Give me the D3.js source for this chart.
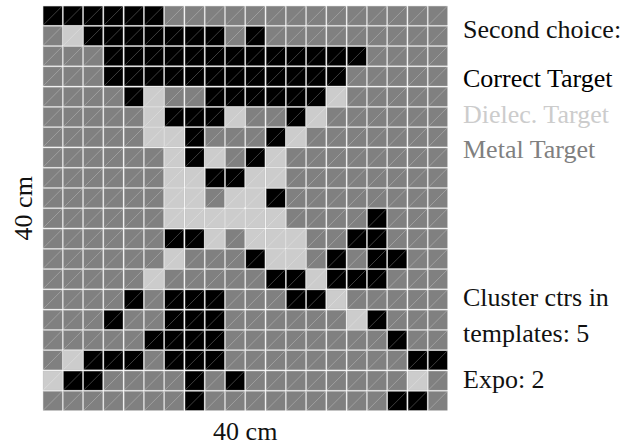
<!DOCTYPE html>
<html>
<head>
<meta charset="utf-8">
<script src="https://cdn.jsdelivr.net/npm/d3@7"></script>
<style>
  html, body { margin: 0; padding: 0; background: #fff; }
  svg { display: block; }
  text { font-family: "Liberation Serif", "Times New Roman", serif; }
</style>
</head>
<body>
<script>
// Second-choice classification over a 20 x 20 grid of cells (40 cm x 40 cm).
// C = Correct Target, D = Dielec. Target, M = Metal Target
const categories = ["Correct Target", "Dielec. Target", "Metal Target"];
const categoryCodes = ["C", "D", "M"];
const categoryColors = ["#000000", "#cccccc", "#808080"];

const gridRows = [
  "CCCCCCMMMMMMMMMMMMMM",
  "MDCCCCCCCMCMMMMMMMMM",
  "MMMCCCCCCCCCCCCCMMMM",
  "MMMCCCCCCCCCCCCMMMMM",
  "MMMMCDMMCCCCCCDMMMMM",
  "MMMMMDCCCDMMCDMMMMMM",
  "MMMMMDDCMMMCDMMMMMMM",
  "MMMMMMDCDMCDMMMMMMMM",
  "MMMMMMDDCCDDMMMMMMMM",
  "MMMMMMDDMDDCMMMMMMMM",
  "MMMMMMDDDDDDMMMMCMMM",
  "MMMMMMCCDMDDDMMCCMMM",
  "MMMMMMDMMMCDDMCMCCMM",
  "MMMMMDMMMMMCCDCCCMMM",
  "MMMMCMCCCMMMCCDMMMMM",
  "MMMCMMCCCMMMMMMDCMMM",
  "MMMMMCCCCMMMMMMMMCMM",
  "MDCCCMCCCMMMMMMMMMCC",
  "DCCMMMMCMCMMMMMMMMDM",
  "MMMMMMMCMMMMMMMMMCCM"
];

const axisLabelX = "40 cm";
const axisLabelY = "40 cm";
const legendTitle = "Second choice:";
const noteLines = ["Cluster ctrs in", "templates: 5"];
const noteExpo = "Expo: 2";

const W = 637, H = 447;
const svg = d3.select("body").append("svg").attr("width", W).attr("height", H);

const nCols = gridRows[0].length;
const nRows = gridRows.length;

const x = d3.scaleBand().domain(d3.range(nCols)).range([42.5, 448]).padding(0);
const y = d3.scaleBand().domain(d3.range(nRows)).range([5.5, 411]).padding(0);
const color = d3.scaleOrdinal().domain(categoryCodes).range(categoryColors);

const cells = [];
gridRows.forEach((row, r) => {
  row.split("").forEach((code, c) => cells.push({ r, c, code }));
});

const gap = 0.6;
const g = svg.append("g");
const cell = g.selectAll("g.cell").data(cells).join("g").attr("class", "cell");

cell.append("rect")
  .attr("x", d => x(d.c) + gap)
  .attr("y", d => y(d.r) + gap)
  .attr("width", x.bandwidth() - 2 * gap)
  .attr("height", y.bandwidth() - 2 * gap)
  .attr("fill", d => color(d.code))
  .attr("stroke", "#b8b8b8")
  .attr("stroke-width", 0.4);

// each cell is split into two triangles along its rising diagonal
cell.append("line")
  .attr("x1", d => x(d.c) + gap)
  .attr("y1", d => y(d.r) + y.bandwidth() - gap)
  .attr("x2", d => x(d.c) + x.bandwidth() - gap)
  .attr("y2", d => y(d.r) + gap)
  .attr("stroke", "#ffffff")
  .attr("stroke-opacity", 0.3)
  .attr("stroke-width", 0.8);

// axis titles
svg.append("text")
  .attr("x", (x.range()[0] + x.range()[1]) / 2)
  .attr("y", 440)
  .attr("text-anchor", "middle")
  .attr("font-size", 26)
  .attr("fill", "#111")
  .text(axisLabelX);

svg.append("text")
  .attr("transform", `translate(32,${(y.range()[0] + y.range()[1]) / 2}) rotate(-90)`)
  .attr("text-anchor", "middle")
  .attr("font-size", 26)
  .attr("fill", "#111")
  .text(axisLabelY);

// legend
const lx = 463;
svg.append("text").attr("x", lx).attr("y", 38).attr("font-size", 26).attr("fill", "#111").text(legendTitle);
svg.selectAll("text.legend").data(categories).join("text")
  .attr("class", "legend")
  .attr("x", lx)
  .attr("y", (d, i) => 87 + i * 35.5)
  .attr("font-size", 26)
  .attr("fill", (d, i) => categoryColors[i])
  .text(d => d);

// notes
svg.selectAll("text.note").data(noteLines).join("text")
  .attr("class", "note")
  .attr("x", lx)
  .attr("y", (d, i) => 306 + i * 35.5)
  .attr("font-size", 26)
  .attr("fill", "#111")
  .text(d => d);
svg.append("text").attr("x", lx).attr("y", 388).attr("font-size", 26).attr("fill", "#111").text(noteExpo);
</script>
</body>
</html>
